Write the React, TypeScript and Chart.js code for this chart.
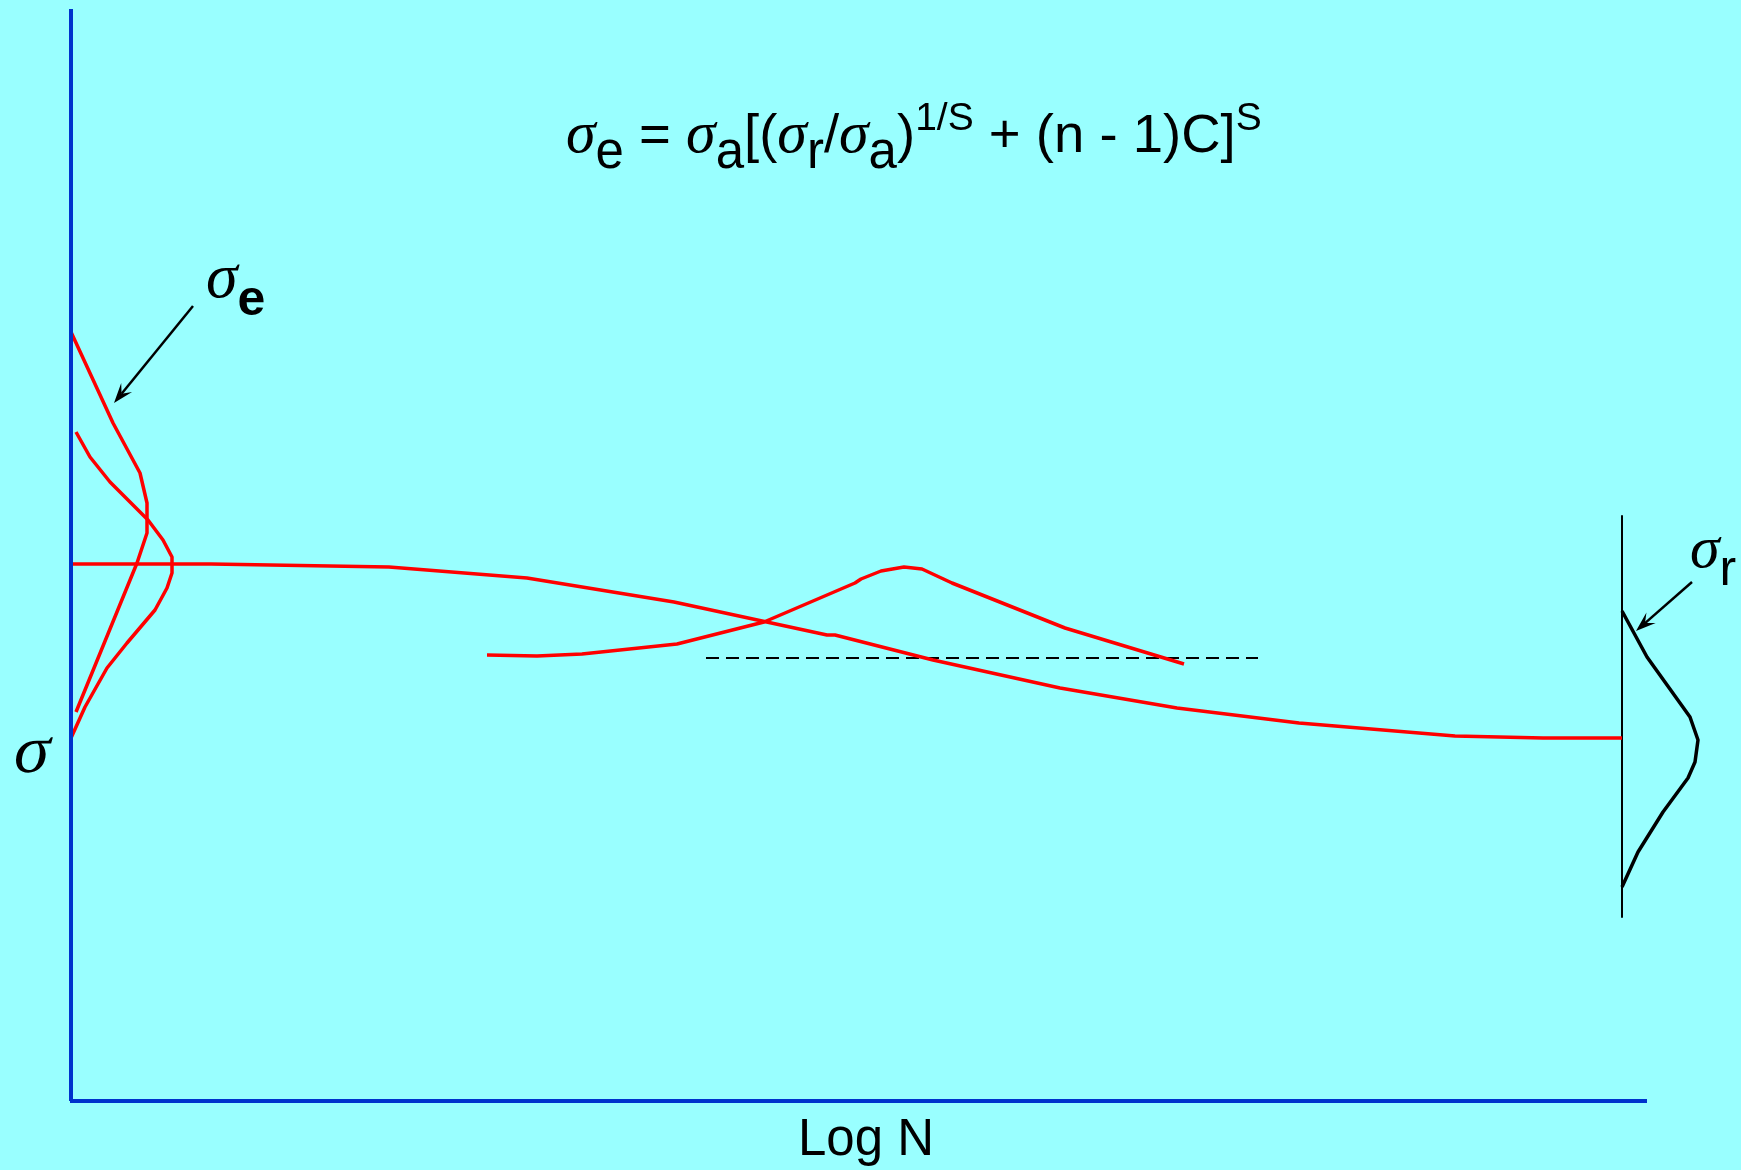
import React, { useEffect, useRef } from "react";
import { Chart, registerables } from "chart.js";

Chart.register(...registerables);

// ---- data (arbitrary units: x = Log N, y = sigma) ----
const X_MIN = 0;
const X_MAX = 167;
const Y_MIN = 0;
const Y_MAX = 109.2;
const AXIS_X_END = 157.6;

// main S-N-like decay curve
const mainCurve: [number, number][] = [
  [0, 53.7], [14.0, 53.7], [31.8, 53.4], [45.6, 52.3], [60.3, 49.9],
  [75.6, 46.6], [76.4, 46.6], [86.2, 44.1], [98.9, 41.3], [110.6, 39.3],
  [122.8, 37.8], [138.4, 36.5], [147.2, 36.3], [155.1, 36.3],
];

// sigma_e distribution (outer)
const sigmaEOuter: [number, number][] = [
  [0, 76.9], [4.2, 67.8], [6.9, 62.8], [7.6, 59.8], [7.6, 56.8], [6.6, 53.8], [0.5, 38.9],
];

// second distribution at left
const sigmaEInner: [number, number][] = [
  [0.5, 66.9], [1.9, 64.4], [3.9, 61.9], [7.7, 58.1], [9.2, 56.1], [10.1, 54.4],
  [10.1, 52.8], [9.6, 51.3], [8.4, 49.1], [5.6, 45.8], [3.6, 43.3], [1.4, 39.4], [0, 36.3],
];

// middle hump curve
const middleCurve: [number, number][] = [
  [41.6, 44.6], [46.6, 44.5], [51.1, 44.7], [60.6, 45.7], [69.3, 47.9], [78.4, 51.8],
  [79.0, 52.2], [81.0, 53.0], [83.3, 53.4], [85.1, 53.2], [88.1, 51.8], [99.4, 47.3], [111.3, 43.7],
];

// dashed reference level
const dashedLevel: [number, number][] = [
  [63.5, 44.3], [118.7, 44.3],
];

// sigma_r distribution at right
const sigmaRBase: [number, number][] = [
  [155.1, 58.5], [155.1, 18.4],
];
const sigmaRCurve: [number, number][] = [
  [155.1, 49.0], [157.6, 44.4], [161.9, 38.4], [162.7, 36.1], [162.4, 33.9],
  [161.7, 32.3], [159.2, 28.9], [156.7, 24.9], [155.1, 21.4],
];

// axes
const yAxisLine: [number, number][] = [[0, 0], [0, Y_MAX]];
const xAxisLine: [number, number][] = [[-0.1, 0], [AXIS_X_END, 0]];

// arrows [from, to]
const arrowSigmaE: [number, number][] = [[12.2, 79.5], [4.3, 69.8]];
const arrowSigmaR: [number, number][] = [[162.1, 51.9], [156.5, 47.0]];

const BG = "#99FFFF";
const RED = "#FF0000";
const BLUE = "#0033CC";
const BLACK = "#000000";

const SANS = "'Liberation Sans', Arial, sans-serif";
const GREEK = "'Liberation Serif', 'Times New Roman', serif";

const toPts = (arr: [number, number][]) => arr.map(([x, y]) => ({ x, y }));

const lineDs = (data: [number, number][], color: string, width: number, dash: number[] = []) => ({
  data: toPts(data),
  showLine: true,
  borderColor: color,
  backgroundColor: color,
  borderWidth: width,
  borderDash: dash,
  pointRadius: 0,
  pointHoverRadius: 0,
  tension: 0,
  fill: false,
  clip: false as any,
  borderJoinStyle: "round" as const,
  borderCapStyle: "butt" as const,
});

type Tok = { t: string; font: string; dy: number };

const annotationPlugin = {
  id: "annotations",
  afterDatasetsDraw(chart: any) {
    const ctx: CanvasRenderingContext2D = chart.ctx;
    const xs = chart.scales.x;
    const ys = chart.scales.y;
    const px = (x: number) => xs.getPixelForValue(x);
    const py = (y: number) => ys.getPixelForValue(y);

    ctx.save();
    ctx.fillStyle = BLACK;
    ctx.strokeStyle = BLACK;
    ctx.textBaseline = "alphabetic";

    // arrows
    const drawArrow = (a: [number, number][]) => {
      const x1 = px(a[0][0]), y1 = py(a[0][1]);
      const x2 = px(a[1][0]), y2 = py(a[1][1]);
      const ang = Math.atan2(y2 - y1, x2 - x1);
      const len = 20, hw = 7;
      const c = Math.cos(ang), s = Math.sin(ang);
      ctx.lineWidth = 2.5;
      ctx.beginPath();
      ctx.moveTo(x1, y1);
      ctx.lineTo(x2 - c * len * 0.6, y2 - s * len * 0.6);
      ctx.stroke();
      ctx.beginPath();
      ctx.moveTo(x2, y2);
      ctx.lineTo(x2 - c * len - s * hw, y2 - s * len + c * hw);
      ctx.lineTo(x2 - c * len * 0.6, y2 - s * len * 0.6);
      ctx.lineTo(x2 - c * len + s * hw, y2 - s * len - c * hw);
      ctx.closePath();
      ctx.fill();
    };
    drawArrow(arrowSigmaE);
    drawArrow(arrowSigmaR);

    const drawTokens = (toks: Tok[], x0: number, y0: number) => {
      let x = x0;
      ctx.textAlign = "left";
      for (const tk of toks) {
        ctx.font = tk.font;
        ctx.fillText(tk.t, x, y0 + tk.dy);
        x += ctx.measureText(tk.t).width;
      }
    };

    const sig = `italic 60px ${GREEK}`;
    const main = `54.5px ${SANS}`;
    const sub = `51px ${SANS}`;
    const sup = `39px ${SANS}`;

    // formula
    drawTokens(
      [
        { t: "σ", font: sig, dy: 0 },
        { t: "e", font: sub, dy: 16 },
        { t: " = ", font: main, dy: 0 },
        { t: "σ", font: sig, dy: 0 },
        { t: "a", font: sub, dy: 16 },
        { t: "[(", font: main, dy: 0 },
        { t: "σ", font: sig, dy: 0 },
        { t: "r", font: sub, dy: 16 },
        { t: "/", font: main, dy: 0 },
        { t: "σ", font: sig, dy: 0 },
        { t: "a", font: sub, dy: 16 },
        { t: ")", font: main, dy: 0 },
        { t: "1/S", font: sup, dy: -22 },
        { t: " + (n - 1)C]", font: main, dy: 0 },
        { t: "S", font: sup, dy: -22 },
      ],
      px(49.5),
      py(94.9)
    );

    // sigma_e label
    drawTokens(
      [
        { t: "σ", font: `italic 64px ${GREEK}`, dy: 0 },
        { t: "e", font: `bold 50px ${SANS}`, dy: 18 },
      ],
      px(13.5),
      py(80.4)
    );

    // sigma_r label
    drawTokens(
      [
        { t: "σ", font: `italic 60px ${GREEK}`, dy: 0 },
        { t: "r", font: `50px ${SANS}`, dy: 18 },
      ],
      px(161.9),
      py(53.4)
    );

    // axis labels
    ctx.save();
    ctx.font = `68px ${GREEK}`;
    ctx.textAlign = "left";
    ctx.translate(px(-6.0), py(32.9));
    ctx.transform(1, 0, -0.18, 1, 0, 0);
    ctx.fillText("σ", 0, 0);
    ctx.restore();

    ctx.font = `51px ${SANS}`;
    ctx.textAlign = "center";
    ctx.fillText("Log N", px(79.5), py(-5.4));

    ctx.restore();
  },
};

export default function App() {
  const canvasRef = useRef<HTMLCanvasElement | null>(null);

  useEffect(() => {
    document.body.style.margin = "0";
    document.body.style.background = BG;
    const canvas = canvasRef.current;
    if (!canvas) return;
    const chart = new Chart(canvas, {
      type: "scatter",
      data: {
        datasets: [
          lineDs(yAxisLine, BLUE, 4),
          lineDs(xAxisLine, BLUE, 4),
          lineDs(mainCurve, RED, 3.5),
          lineDs(sigmaEOuter, RED, 3.5),
          lineDs(sigmaEInner, RED, 3.5),
          lineDs(middleCurve, RED, 3.5),
          lineDs(dashedLevel, BLACK, 2.2, [13, 7]),
          lineDs(sigmaRBase, BLACK, 2),
          lineDs(sigmaRCurve, BLACK, 3.5),
        ] as any,
      },
      options: {
        animation: false,
        responsive: false,
        devicePixelRatio: 1,
        events: [],
        layout: { padding: { left: 71, right: 0, top: 9, bottom: 69 } },
        scales: {
          x: { type: "linear", min: X_MIN, max: X_MAX, display: false },
          y: { type: "linear", min: Y_MIN, max: Y_MAX, display: false },
        },
        plugins: {
          legend: { display: false },
          tooltip: { enabled: false },
          title: { display: false },
        },
      },
      plugins: [annotationPlugin],
    });
    return () => chart.destroy();
  }, []);

  return (
    <div style={{ position: "fixed", left: 0, top: 0, width: 1741, height: 1170, background: BG }}>
      <canvas ref={canvasRef} width={1741} height={1170} style={{ display: "block" }} />
    </div>
  );
}
